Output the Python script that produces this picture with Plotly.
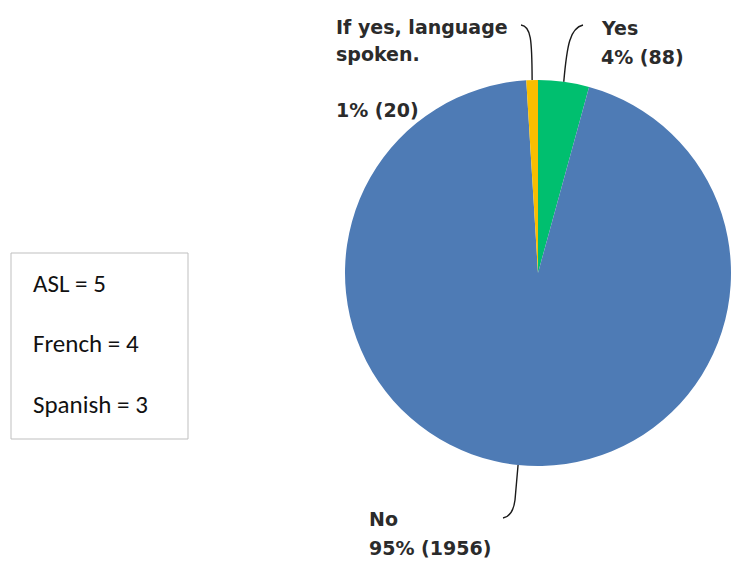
import math
import plotly.graph_objects as go

# ---- data ----
categories = ["Yes", "No", "If yes, language spoken."]
counts = [88, 1956, 20]
percent_labels = ["4% (88)", "95% (1956)", "1% (20)"]
colors = ["#00BF6F", "#4E7BB5", "#F9BE00"]
language_lines = ["ASL = 5", "French = 4", "Spanish = 3"]

W, H = 734, 561
# pie placement (pixels)
CX, CY, R = 538, 273, 193

def px(x):
    return x / W

def py(y):
    return 1 - y / H

fig = go.Figure(go.Pie(
    labels=categories,
    values=counts,
    marker=dict(colors=colors, line=dict(width=0)),
    sort=False,
    direction="clockwise",
    rotation=0,
    textinfo="none",
    hoverinfo="label+value+percent",
    showlegend=False,
    domain=dict(x=[px(CX - R), px(CX + R)], y=[py(CY + R), py(CY - R)]),
))

# mid-angle anchor points on the pie edge, computed from data
total = sum(counts)
anchors = []
cum = 0
for v in counts:
    mid = (cum + v / 2) / total * 2 * math.pi
    anchors.append((CX + R * math.sin(mid), CY - R * math.cos(mid)))
    cum += v

lab_font = dict(family="DejaVu Sans", size=19, color="#2b2b2b", weight="bold")
line_style = dict(color="#1a1a1a", width=1.4)

shapes = []
# Yes leader
ax, ay = anchors[0]
shapes.append(dict(type="path", xref="paper", yref="paper", line=line_style,
                   path=f"M {px(583)},{py(25)} C {px(570)},{py(28)} {px(567)},{py(45)} {px(ax)},{py(ay)}"))
# No leader
ax, ay = anchors[1]
shapes.append(dict(type="path", xref="paper", yref="paper", line=line_style,
                   path=f"M {px(ax)},{py(ay)} L {px(515)},{py(500)} Q {px(513)},{py(516)} {px(503)},{py(518)}"))
# language leader
ax, ay = anchors[2]
shapes.append(dict(type="path", xref="paper", yref="paper", line=line_style,
                   path=f"M {px(521)},{py(25)} C {px(531)},{py(26)} {px(532)},{py(40)} {px(ax)},{py(ay)}"))
# language box
shapes.append(dict(type="rect", xref="paper", yref="paper",
                   x0=px(11), x1=px(188), y0=py(439), y1=py(253),
                   line=dict(color="#BFBFBF", width=1)))

# (text, left x, cap-centre y) in pixels
label_lines = [
    (categories[0], 599, 28),
    (percent_labels[0], 599, 57),
    (categories[1], 367, 519),
    (percent_labels[1], 367, 548),
    ("If yes, language", 334, 27),
    ("spoken.", 334, 54),
    (percent_labels[2], 334, 110),
]
annotations = []
for t, x, y in label_lines:
    annotations.append(dict(text=t, x=px(x), y=py(y), xref="paper", yref="paper",
                            xanchor="left", yanchor="middle", showarrow=False, font=lab_font))

box_font = dict(family="Carlito, Calibri, Lato", size=25, color="#111111")
for i, t in enumerate(language_lines):
    annotations.append(dict(text=t, xref="paper", yref="paper", showarrow=False,
                            x=px(31), y=py(283 + i * 60.5), xanchor="left", yanchor="middle",
                            font=box_font))

fig.update_layout(
    width=W, height=H,
    margin=dict(l=0, r=0, t=0, b=0),
    paper_bgcolor="white", plot_bgcolor="white",
    shapes=shapes, annotations=annotations,
)

fig.write_html("out.html", config={"displayModeBar": False},
               post_script="document.body.style.margin='0';document.body.style.overflow='hidden';")
